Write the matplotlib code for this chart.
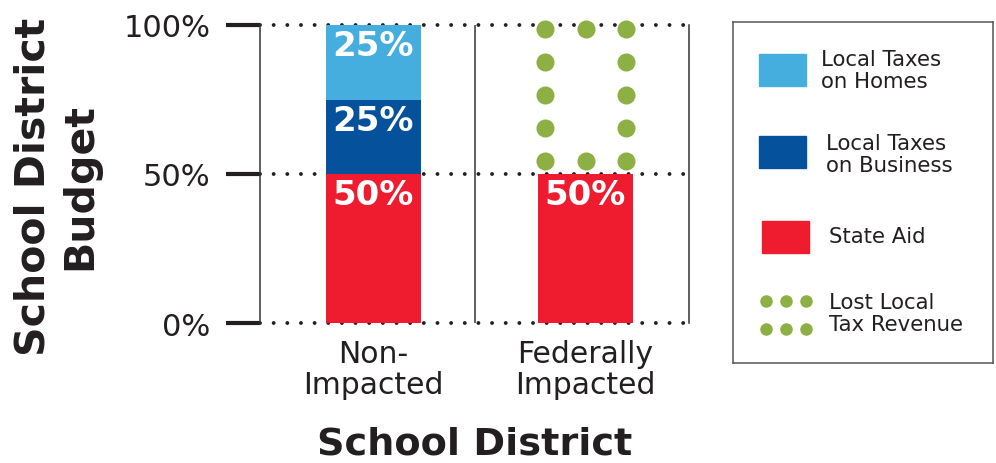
import matplotlib.pyplot as plt
import numpy as np

categories = ['Non-\nImpacted', 'Federally\nImpacted']
state_aid = [50, 50]
taxes_business = [25, 0]
taxes_homes = [25, 0]
lost_revenue = [0, 50]

legend_labels = ['Local Taxes\non Homes', 'Local Taxes\non Business', 'State Aid',
                 'Lost Local\nTax Revenue']

c_homes = '#45aedf'
c_business = '#06519b'
c_state = '#ee1c2e'
c_lost = '#8cb043'
c_text = '#231f20'

fig = plt.figure(figsize=(9.96, 4.64), dpi=100)
ax = fig.add_axes([260 / 996, 140 / 464, 429 / 996, 298 / 464])

x = np.arange(len(categories))
width = 0.448

bottom_business = np.array(state_aid)
bottom_homes = bottom_business + np.array(taxes_business)
bottom_lost = bottom_homes + np.array(taxes_homes)

ax.bar(x, state_aid, width, color=c_state, zorder=2)
ax.bar(x, taxes_business, width, bottom=bottom_business, color=c_business, zorder=2)
ax.bar(x, taxes_homes, width, bottom=bottom_homes, color=c_homes, zorder=2)

# white labels near the top of each segment
for vals, bots in [(state_aid, np.zeros(2)), (taxes_business, bottom_business),
                   (taxes_homes, bottom_homes)]:
    for xi, v, b in zip(x, vals, bots):
        if v > 0:
            ax.text(xi, b + v - 7, f'{v}%', color='white', fontsize=24.5,
                    fontweight='bold', ha='center', va='center', zorder=4)

# lost revenue: dotted outline of the missing segment
for xi, v, b in zip(x, lost_revenue, bottom_lost):
    if v <= 0:
        continue
    xs = xi + np.array([-0.85, 0, 0.85]) * width / 2
    ys = np.linspace(b + 0.09 * v, b + v - 0.03 * v, 5)
    px, py = [], []
    for j, yy in enumerate(ys):
        if j == 0 or j == len(ys) - 1:
            px += list(xs)
            py += [yy] * 3
        else:
            px += [xs[0], xs[-1]]
            py += [yy] * 2
    ax.plot(px, py, 'o', color=c_lost, markersize=13, markeredgewidth=0,
            zorder=5, clip_on=False)

# dotted gridlines
for yv in [0, 50, 100]:
    ax.axhline(yv, color=c_text, lw=2.8, linestyle=(0, (0.01, 3.5)),
               dash_capstyle='round', zorder=1, clip_on=False)
ax.plot([0.5, 0.5], [0, 1], color='#333333', lw=1.1, transform=ax.transAxes, zorder=1)

ax.set_xlim(-0.535, 1.488)
ax.set_ylim(0, 100)
ax.set_yticks([0, 50, 100])
ax.set_yticklabels(['0%', '50%', '100%'])
ax.tick_params(axis='y', length=24.5, width=3, color=c_text, pad=11,
               labelsize=22, labelcolor=c_text)
ax.set_xticks(x)
ax.set_xticklabels(categories, linespacing=1.1)
ax.tick_params(axis='x', length=0, pad=11.5, labelsize=21.5, labelcolor=c_text)

for s in ['top', 'bottom']:
    ax.spines[s].set_visible(False)
for s in ['left', 'right']:
    ax.spines[s].set_color('#333333')
    ax.spines[s].set_linewidth(1.1)

ax.set_xlabel('School District', fontsize=27.5, fontweight='bold', color=c_text)
ax.xaxis.set_label_coords(0.5, -0.345)
ax.set_ylabel('School District\nBudget', fontsize=29.5, fontweight='bold', color=c_text)
ax.yaxis.set_label_coords(-0.373, 0.46)

# legend box
lax = fig.add_axes([733 / 996, 100 / 464, 260 / 996, 341 / 464])
lax.set_xlim(0, 260)
lax.set_ylim(341, 0)
lax.set_xticks([])
lax.set_yticks([])
for s in lax.spines.values():
    s.set_color('#555555')
    s.set_linewidth(1.1)

patch_rows = [(26, 32, c_homes), (26, 114, c_business), (29, 199, c_state)]
for (px0, py0, col) in patch_rows:
    lax.add_patch(plt.Rectangle((px0, py0), 47, 32, color=col))
dx = np.array([32.7, 52.7, 73])
for yy in [278.7, 307]:
    lax.plot(dx, [yy] * 3, 'o', color=c_lost, markersize=9, markeredgewidth=0)

text_pos = [(88, 48), (92.7, 132.4), (96.3, 214.3), (95.7, 291)]
for (tx, ty), lab in zip(text_pos, legend_labels):
    lax.text(tx, ty, lab, fontsize=15.3, color=c_text, ha='left', va='center',
             linespacing=1.12)

fig.savefig('out.png', dpi=100)
